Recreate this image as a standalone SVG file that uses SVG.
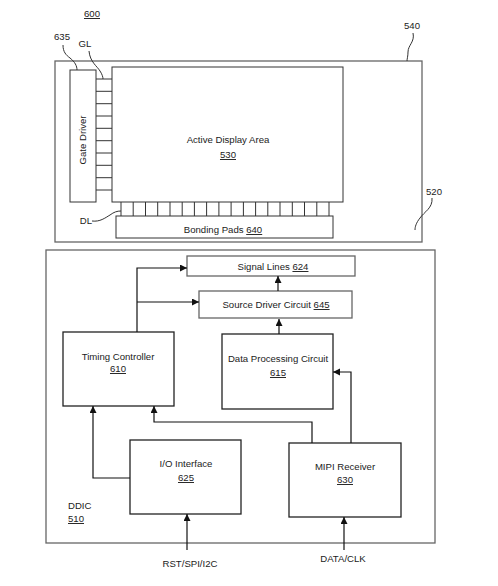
<svg xmlns="http://www.w3.org/2000/svg" width="498" height="586" viewBox="0 0 498 586">
<style>
text{font-family:"Liberation Sans",Arial,sans-serif;font-size:9.6px;fill:#222;}
.c{text-anchor:middle;}
.u{text-decoration:underline;}
.panel{fill:none;stroke:#666;stroke-width:1.3;}
.thin{fill:none;stroke:#333;stroke-width:1;}
.blk{fill:#fff;stroke:#222;stroke-width:1.3;}
.dot{fill:#fff;stroke:#666;stroke-width:1.3;}
.lead{fill:none;stroke:#333;stroke-width:1;}
.con{fill:none;stroke:#111;stroke-width:1.2;}
</style>
<defs>
<marker id="ah" markerUnits="userSpaceOnUse" markerWidth="8" markerHeight="8" refX="7" refY="3.5" orient="auto">
<path d="M0,0 L7,3.5 L0,7 Z" fill="#111"/>
</marker>
</defs>
<rect width="498" height="586" fill="#fff"/>

<text id="lbl600" class="c" x="92" y="17"><tspan class="u">600</tspan></text>

<g id="panel540">
<rect class="panel" x="55" y="61" width="367" height="181"/>
<text x="412" y="29" class="c">540</text>
<path class="lead" d="M413,33 C415,42 408,45 408,52 C408,56 407,59 407,61"/>
<text x="434" y="195" class="c">520</text>
<path class="lead" d="M432,198 C433,208 424,212 420,218 C416,223 415,227 415,230"/>
</g>

<g id="gateDriver">
<rect class="thin" x="70" y="70" width="26" height="132"/>
<text class="c" transform="translate(86,140) rotate(-90)">Gate Driver</text>
<text x="62" y="40" class="c">635</text>
<path class="lead" d="M63,45 C63,52 66,55 70,58 C75,62 77,66 77,70"/>
</g>

<g id="gateLines">
<path class="thin" d="M96,79H112M96,91.3H112M96,103.7H112M96,116H112M96,128.3H112M96,140.7H112M96,153H112M96,165.3H112M96,177.7H112M96,190H112"/>
<text x="85" y="47" class="c">GL</text>
<path class="lead" d="M89,51 C90,62 97,66 100,71 C102,74 103,77 103,79"/>
</g>

<g id="activeArea">
<rect class="thin" x="112" y="67" width="231" height="135"/>
<text x="228" y="143" class="c">Active Display Area</text>
<text x="228" y="158" class="c"><tspan class="u">530</tspan></text>
</g>

<g id="dataLines">
<path class="thin" d="M121,202V216M133.2,202V216M145.5,202V216M157.7,202V216M170,202V216M182.2,202V216M194.4,202V216M206.6,202V216M218.9,202V216M231.1,202V216M243.4,202V216M255.6,202V216M267.8,202V216M280,202V216M292.3,202V216M304.5,202V216M316.8,202V216M329,202V216"/>
<text x="86" y="224" class="c">DL</text>
<path class="lead" d="M92,221 C100,222 105,218 110,215 C114,212 117,211 121,211"/>
</g>

<g id="bondingPads">
<rect class="thin" x="116" y="216" width="217" height="22"/>
<text x="223" y="233" class="c">Bonding Pads <tspan class="u">640</tspan></text>
</g>

<g id="ddic">
<rect class="panel" x="46" y="250" width="389" height="293"/>
<text x="68" y="509">DDIC</text>
<text x="68" y="522"><tspan class="u">510</tspan></text>
</g>

<g id="signalLines">
<rect class="dot" x="187" y="256" width="168" height="20"/>
<text x="273" y="270" class="c">Signal Lines <tspan class="u">624</tspan></text>
</g>

<g id="sourceDriver">
<rect class="dot" x="199" y="291" width="153" height="27"/>
<text x="276" y="308" class="c">Source Driver Circuit <tspan class="u">645</tspan></text>
</g>

<g id="dataProcessing">
<rect class="blk" x="222" y="334" width="111" height="75"/>
<text x="278" y="362" class="c">Data Processing Circuit</text>
<text x="278" y="376" class="c"><tspan class="u">615</tspan></text>
</g>

<g id="timingController">
<rect class="blk" x="63" y="332" width="111" height="74"/>
<text x="118" y="360" class="c">Timing Controller</text>
<text x="118" y="372" class="c"><tspan class="u">610</tspan></text>
</g>

<g id="ioInterface">
<rect class="blk" x="130" y="440" width="111" height="74"/>
<text x="186" y="467" class="c">I/O Interface</text>
<text x="186" y="481" class="c"><tspan class="u">625</tspan></text>
</g>

<g id="mipiReceiver">
<rect class="blk" x="289" y="443" width="112" height="74"/>
<text x="345" y="470" class="c">MIPI Receiver</text>
<text x="345" y="483" class="c"><tspan class="u">630</tspan></text>
</g>

<text x="190" y="567" class="c">RST/SPI/I2C</text>
<text x="343" y="562" class="c">DATA/CLK</text>

<g id="connectors">
<path class="con" d="M137,332 V268 H187" marker-end="url(#ah)"/>
<path class="con" d="M137,302 H199" marker-end="url(#ah)"/>
<path class="con" d="M278,291 V276" marker-end="url(#ah)"/>
<path class="con" d="M279,334 V319" marker-end="url(#ah)"/>
<path class="con" d="M351,443 V372 H333" marker-end="url(#ah)"/>
<path class="con" d="M312,443 V422 H154 V406" marker-end="url(#ah)"/>
<path class="con" d="M130,478 H93 V406" marker-end="url(#ah)"/>
<path class="con" d="M187,550 V514" marker-end="url(#ah)"/>
<path class="con" d="M344,550 V517" marker-end="url(#ah)"/>
</g>
</svg>
